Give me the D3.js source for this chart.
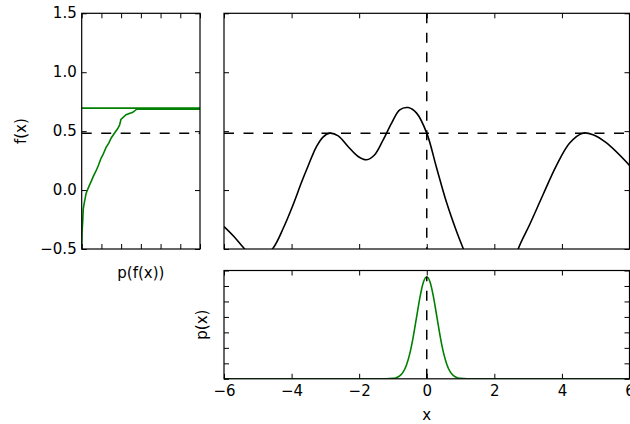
<!DOCTYPE html>
<html>
<head>
<meta charset="utf-8">
<script src="https://cdn.jsdelivr.net/npm/d3@7"></script>
<style>
  body { margin: 0; background: #fff; }
  svg { display: block; font-family: "DejaVu Sans", sans-serif; }
</style>
</head>
<body>
<svg id="chart" width="630" height="424"></svg>
<script>
(function (d3) {
  "use strict";

  /***** Data *****/
  // f(x), main panel
  var fxX = [-6, -5.72, -5.42, -5.0, -4.54, -4.24, -3.99, -3.70, -3.56, -3.26, -3.07, -2.87, -2.62, -2.33,
             -2.03, -1.78, -1.54, -1.29, -1.04, -0.80, -0.55, -0.30, 0, 0.29, 0.58, 0.88, 1.07, 1.4,
             1.9, 2.4, 2.72, 3.05, 3.44, 3.84, 4.23, 4.62, 4.92, 5.32, 6];
  var fxY = [-0.31, -0.39, -0.49, -0.62, -0.49, -0.32, -0.15, 0.07, 0.17, 0.37, 0.45, 0.483, 0.46, 0.37,
             0.285, 0.257, 0.30, 0.426, 0.568, 0.681, 0.70, 0.653, 0.483, 0.19, -0.10, -0.35, -0.49, -0.75,
             -0.95, -0.80, -0.49, -0.29, -0.04, 0.21, 0.40, 0.483, 0.47, 0.40, 0.21];

  // p(x), bottom panel
  var pxX = [-6, -1.2, -1.0, -0.9, -0.8, -0.7, -0.6, -0.5, -0.4, -0.3, -0.2, -0.1, 0,
             0.1, 0.2, 0.3, 0.4, 0.5, 0.6, 0.7, 0.8, 0.9, 1.0, 1.2, 6];
  var pxY = [0, 0, 0.005, 0.015, 0.038, 0.086, 0.179, 0.329, 0.543, 0.801, 1.057, 1.249, 1.32,
             1.249, 1.057, 0.801, 0.543, 0.329, 0.179, 0.086, 0.038, 0.015, 0.005, 0, 0];

  // p(f(x)), left panel (f on the vertical axis)
  var pfF = [-0.5, -0.35, -0.27, -0.16, -0.10, -0.03, 0.00, 0.04, 0.07, 0.12, 0.16, 0.21, 0.27, 0.30,
             0.36, 0.40, 0.44, 0.48, 0.52, 0.55, 0.60, 0.64, 0.66, 0.686, 0.686, 0.695, 0.695];
  var pfP = [0, 0.02, 0.05, 0.08, 0.14, 0.22, 0.29, 0.39, 0.47, 0.60, 0.72, 0.85, 0.98, 1.08,
             1.23, 1.38, 1.49, 1.65, 1.82, 1.92, 1.99, 2.25, 2.59, 2.79, 9, 9, 0];

  var x0 = 0, fx0 = 0.483, px0 = 1.32;

  var yTicksF = [-0.5, 0, 0.5, 1.0, 1.5];
  var xTicksMain = [-6, -4, -2, 0, 2, 4, 6];
  var xTicksP = [0, 1, 2, 3, 4, 5, 6];
  var yTicksPx = [0, 0.2, 0.4, 0.6, 0.8, 1.0, 1.2, 1.4];

  /***** Layout *****/
  var left = {x0: 81.7, x1: 200, y0: 13.3, y1: 249};
  var main = {x0: 224, x1: 629.5, y0: 13.3, y1: 249};
  var bottom = {x0: 224, x1: 629.5, y0: 270.5, y1: 378.8};

  var fontSize = "15px";
  var tickLen = 5;
  var dash = "10,9.5";
  var green = "#008000";

  /***** Scales *****/
  var yF = d3.scaleLinear().domain([-0.5, 1.5]).range([left.y1, left.y0]);
  var xM = d3.scaleLinear().domain([-6, 6]).range([main.x0, main.x1]);
  var xP = d3.scaleLinear().domain([0, 6]).range([left.x0, left.x1]);
  var yP = d3.scaleLinear().domain([0, 1.4]).range([bottom.y1, bottom.y0]);

  var svg = d3.select("#chart");
  var defs = svg.append("defs");

  function clip(id, box) {
    defs.append("clipPath").attr("id", id).append("rect")
      .attr("x", box.x0).attr("y", box.y0)
      .attr("width", box.x1 - box.x0).attr("height", box.y1 - box.y0);
    return svg.append("g").attr("clip-path", "url(#" + id + ")");
  }

  // Inward ticks on one side of a panel, with or without labels
  function ticks(axisFn, scale, values, tx, ty, fmt) {
    var ax = axisFn(scale).tickValues(values).tickSizeInner(-tickLen).tickSizeOuter(0)
      .tickPadding(axisFn === d3.axisBottom ? 6.5 : 5)
      .tickFormat(fmt || function () { return ""; });
    var g = svg.append("g").attr("transform", "translate(" + tx + "," + ty + ")").call(ax);
    g.select(".domain").remove();
    g.attr("font-family", "DejaVu Sans, sans-serif").attr("font-size", fontSize);
    g.selectAll("line").attr("stroke", "#000").attr("stroke-width", 1);
    g.selectAll("text").attr("fill", "#000");
    return g;
  }

  function frame(box) {
    svg.append("rect").attr("x", box.x0).attr("y", box.y0)
      .attr("width", box.x1 - box.x0).attr("height", box.y1 - box.y0)
      .attr("fill", "none").attr("stroke", "#000").attr("stroke-width", 1.2);
  }

  /***** Left panel: p(f(x)) *****/
  var gl = clip("clipLeft", left);
  gl.append("line")
    .attr("x1", left.x0).attr("x2", left.x1).attr("y1", yF(fx0)).attr("y2", yF(fx0))
    .attr("stroke", "#000").attr("stroke-width", 1.5).attr("stroke-dasharray", dash);
  gl.append("path")
    .datum(d3.range(pfF.length))
    .attr("fill", "none").attr("stroke", green).attr("stroke-width", 1.6)
    .attr("d", d3.line().x(function (i) { return xP(pfP[i]); }).y(function (i) { return yF(pfF[i]); }));

  ticks(d3.axisLeft, yF, yTicksF, left.x0, 0, d3.format(".1f"))
    .selectAll("text").attr("dy", "0.3em");
  ticks(d3.axisRight, yF, yTicksF, left.x1, 0);
  ticks(d3.axisBottom, xP, xTicksP, 0, left.y1);
  ticks(d3.axisTop, xP, xTicksP, 0, left.y0);
  frame(left);

  /***** Main panel: f(x) *****/
  var gm = clip("clipMain", main);
  gm.append("line")
    .attr("x1", main.x0).attr("x2", main.x1).attr("y1", yF(fx0)).attr("y2", yF(fx0))
    .attr("stroke", "#000").attr("stroke-width", 1.5).attr("stroke-dasharray", dash);
  gm.append("line")
    .attr("x1", xM(x0)).attr("x2", xM(x0)).attr("y1", main.y0).attr("y2", main.y1)
    .attr("stroke", "#000").attr("stroke-width", 1.5).attr("stroke-dasharray", dash);
  gm.append("path")
    .datum(d3.range(fxX.length))
    .attr("fill", "none").attr("stroke", "#000").attr("stroke-width", 1.6)
    .attr("d", d3.line().curve(d3.curveCatmullRom.alpha(0.5))
      .x(function (i) { return xM(fxX[i]); }).y(function (i) { return yF(fxY[i]); }));

  ticks(d3.axisLeft, yF, yTicksF, main.x0, 0);
  ticks(d3.axisRight, yF, yTicksF, main.x1, 0);
  ticks(d3.axisBottom, xM, xTicksMain, 0, main.y1);
  ticks(d3.axisTop, xM, xTicksMain, 0, main.y0);
  frame(main);

  /***** Bottom panel: p(x) *****/
  var gb = clip("clipBottom", bottom);
  gb.append("path")
    .datum(d3.range(pxX.length))
    .attr("fill", "none").attr("stroke", green).attr("stroke-width", 1.6)
    .attr("d", d3.line().curve(d3.curveMonotoneX)
      .x(function (i) { return xM(pxX[i]); }).y(function (i) { return yP(pxY[i]); }));
  gb.append("line")
    .attr("x1", xM(x0)).attr("x2", xM(x0)).attr("y1", yP(0)).attr("y2", yP(px0))
    .attr("stroke", "#000").attr("stroke-width", 1.5).attr("stroke-dasharray", dash);

  ticks(d3.axisLeft, yP, yTicksPx, bottom.x0, 0);
  ticks(d3.axisRight, yP, yTicksPx, bottom.x1, 0);
  ticks(d3.axisBottom, xM, xTicksMain, 0, bottom.y1, d3.format("d"));
  ticks(d3.axisTop, xM, xTicksMain, 0, bottom.y0);
  frame(bottom);

  /***** Axis labels *****/
  function label(text, x, y, rotate) {
    svg.append("text")
      .attr("transform", "translate(" + x + "," + y + ")" + (rotate ? " rotate(-90)" : ""))
      .attr("text-anchor", "middle").attr("font-size", fontSize).attr("fill", "#000")
      .text(text);
  }
  label("f(x)", 26.3, (left.y0 + left.y1) / 2, true);
  label("p(f(x))", (left.x0 + left.x1) / 2, 278, false);
  label("p(x)", 207.3, (bottom.y0 + bottom.y1) / 2, true);
  label("x", (main.x0 + main.x1) / 2, 420, false);

})(d3);
</script>
</body>
</html>
